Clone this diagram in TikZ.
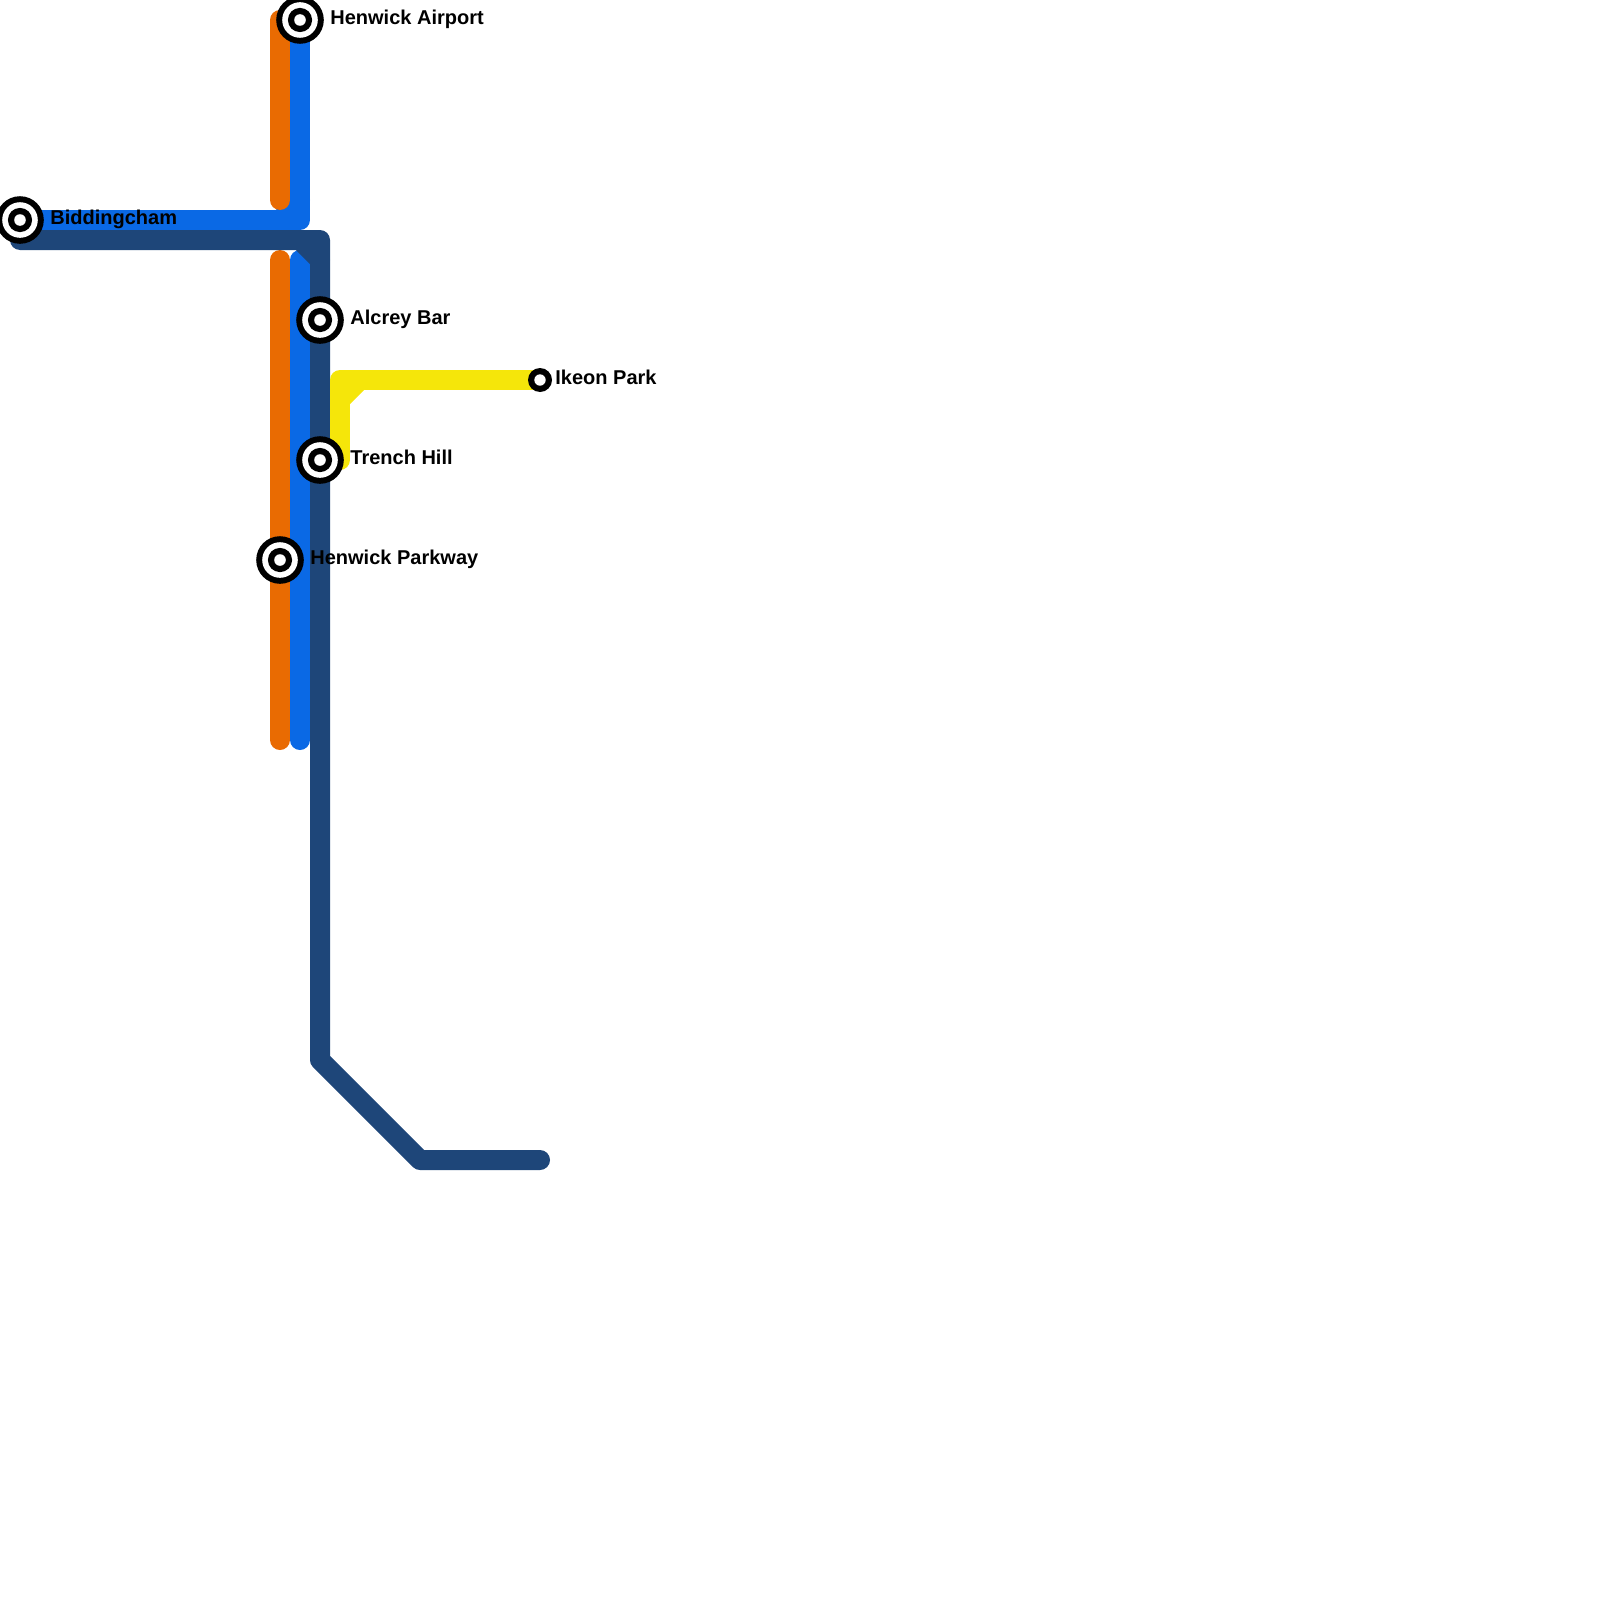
\documentclass[tikz,border=0pt]{standalone}
\usepackage{fontspec}
\setmainfont{Liberation Sans}
\definecolor{orangeline}{HTML}{E96B02}
\definecolor{blueline}{HTML}{0A69E5}
\definecolor{navyline}{HTML}{1E4679}
\definecolor{yellowline}{HTML}{F5E60A}
\tikzset{
  metro/.style={line width=10pt,line cap=round,line join=round},
  bigstation/.pic={
    \fill[black] (0,0) circle (23.8);
    \fill[white] (0,0) circle (17.8);
    \fill[black] (0,0) circle (12.1);
    \fill[white] (0,0) circle (5.8);
  },
  smallstation/.pic={
    \fill[black] (0,0) circle (12);
    \fill[white] (0,0) circle (5.7);
  },
  stationlabel/.style={anchor=base west,inner sep=0pt,font=\bfseries\fontsize{10}{12}\selectfont,text=black}
}
\begin{document}
\begin{tikzpicture}[x=0.5pt,y=-0.5pt]
\path[use as bounding box] (0,0) rectangle (1600,1600);
% free line ends and bends
\coordinate (oa) at (280,20);
\coordinate (ob) at (280,200);
\coordinate (oc) at (280,260);
\coordinate (od) at (280,740);
\coordinate (ba) at (300,20);
\coordinate (bb) at (300,220);
\coordinate (bc) at (20,220);
\coordinate (bd) at (300,260);
\coordinate (be) at (300,740);
\coordinate (bf) at (300,200);
\coordinate (bg) at (280,220);
\coordinate (na) at (20,240);
\coordinate (nb) at (320,240);
\coordinate (nc) at (320,1060);
\coordinate (nd) at (420,1160);
\coordinate (ne) at (540,1160);
\coordinate (nf) at (300,240);
\coordinate (ng) at (320,260);
\coordinate (ya) at (540,380);
\coordinate (yb) at (340,380);
\coordinate (yc) at (340,460);
\coordinate (yd) at (360,380);
\coordinate (ye) at (340,400);
% lines
\draw[metro,blueline] (ba) -- (bb) -- (bc);
\draw[metro,blueline] (bf) -- (bg);
\draw[metro,blueline] (bd) -- (be);
\draw[metro,orangeline] (oa) -- (ob);
\draw[metro,orangeline] (oc) -- (od);
\draw[metro,navyline] (na) -- (nb) -- (nc) -- (nd) -- (ne);
\draw[metro,navyline] (nf) -- (ng);
\draw[metro,yellowline] (ya) -- (yb) -- (yc);
\draw[metro,yellowline] (yd) -- (ye);
% stations
\pic at (300,20) {bigstation};
\pic at (20,220) {bigstation};
\pic at (320,320) {bigstation};
\pic at (320,460) {bigstation};
\pic at (280,560) {bigstation};
\pic at (540,380) {smallstation};
% labels
\node[stationlabel] (airport) at (330,24.6) {Henwick Airport};
\node[stationlabel] (bidding) at (50,224.6) {Biddingcham};
\node[stationlabel] (alcrey) at (350,324.6) {Alcrey Bar};
\node[stationlabel] (ikeon) at (555,384.6) {Ikeon Park};
\node[stationlabel] (trench) at (350,464.6) {Trench Hill};
\node[stationlabel] (parkway) at (310,564.6) {Henwick Parkway};
\end{tikzpicture}
\end{document}
